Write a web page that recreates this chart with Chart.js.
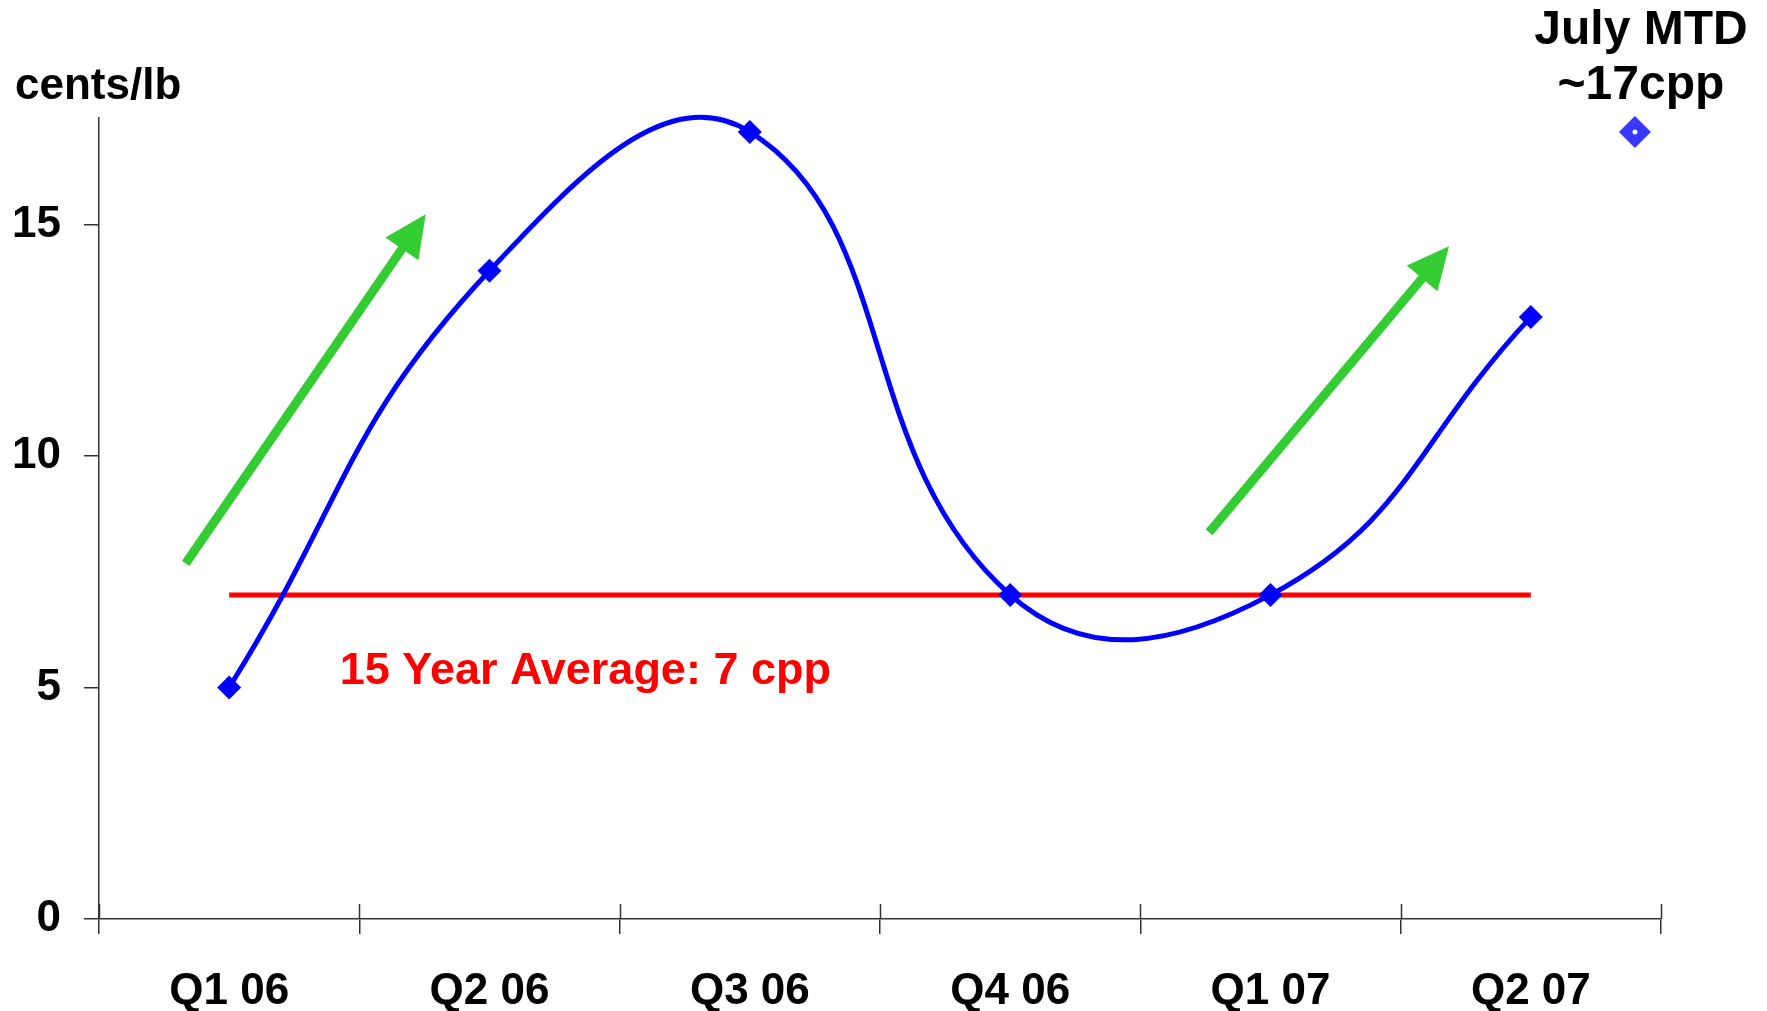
<!DOCTYPE html>
<html>
<head>
<meta charset="utf-8">
<script src="https://cdn.jsdelivr.net/npm/chart.js@4/dist/chart.umd.min.js"></script>
<style>
  html, body { margin: 0; padding: 0; background: #ffffff; }
  canvas { display: block; }
</style>
</head>
<body>
<canvas id="chart" width="1767" height="1011"></canvas>
<script>
// Quarterly price, cents per pound
const quarters = ['Q1 06', 'Q2 06', 'Q3 06', 'Q4 06', 'Q1 07', 'Q2 07'];
const priceCpp = [5, 14, 17, 7, 7, 13];
const fifteenYearAvg = [7, 7, 7, 7, 7, 7];
// July month-to-date reading (x on the quarter-boundary scale: 0 = start of Q1 06)
const julyMtd = [{ x: 5.9, y: 17 }];
const yTickStep = 5;
const yMax = 17.3;

const FONT = '"Liberation Sans", Arial, Helvetica, sans-serif';
const tickFont = { family: FONT, size: 44, weight: 'bold' };

// Trend arrows, given in (quarter-boundary, cents/lb) units
const trendArrows = [
  { from: [0.333, 7.68], to: [1.255, 15.22] },
  { from: [4.264, 8.35], to: [5.186, 14.53] }
];

const decorations = {
  id: 'decorations',
  afterDatasetsDraw(chart) {
    const { ctx, chartArea } = chart;
    const xr = chart.scales.xr;
    const y = chart.scales.y;
    ctx.save();

    // x tick marks also reach up into the plot
    ctx.strokeStyle = '#333333';
    ctx.lineWidth = 1.5;
    for (let i = 0; i <= quarters.length; i++) {
      const px = Math.round(xr.getPixelForValue(i)) + 0.5;
      ctx.beginPath();
      ctx.moveTo(px, chartArea.bottom);
      ctx.lineTo(px, chartArea.bottom - 15);
      ctx.stroke();
    }

    // green trend arrows
    ctx.fillStyle = '#33CC33';
    ctx.strokeStyle = '#33CC33';
    trendArrows.forEach(a => {
      const x0 = xr.getPixelForValue(a.from[0]), y0 = y.getPixelForValue(a.from[1]);
      const x1 = xr.getPixelForValue(a.to[0]), y1 = y.getPixelForValue(a.to[1]);
      const ang = Math.atan2(y1 - y0, x1 - x0);
      const headLen = 42, headHalf = 20;
      const bx = x1 - headLen * Math.cos(ang), by = y1 - headLen * Math.sin(ang);
      ctx.lineWidth = 9;
      ctx.lineCap = 'butt';
      ctx.beginPath();
      ctx.moveTo(x0, y0);
      ctx.lineTo(bx + 2 * Math.cos(ang), by + 2 * Math.sin(ang));
      ctx.stroke();
      ctx.beginPath();
      ctx.moveTo(x1, y1);
      ctx.lineTo(bx - headHalf * Math.sin(ang), by + headHalf * Math.cos(ang));
      ctx.lineTo(bx + headHalf * Math.sin(ang), by - headHalf * Math.cos(ang));
      ctx.closePath();
      ctx.fill();
    });

    // average label
    ctx.fillStyle = '#FF0000';
    ctx.font = 'bold 45px ' + FONT;
    ctx.textAlign = 'left';
    ctx.textBaseline = 'alphabetic';
    ctx.fillText('15 Year Average: 7 cpp', xr.getPixelForValue(0.925), y.getPixelForValue(5.07));

    // July MTD callout
    const jx = xr.getPixelForValue(julyMtd[0].x), jy = y.getPixelForValue(julyMtd[0].y);
    ctx.fillStyle = '#000000';
    ctx.font = 'bold 48px ' + FONT;
    ctx.textAlign = 'center';
    ctx.fillText('July MTD', jx + 6, jy - 88);
    ctx.fillText('~17cpp', jx + 6, jy - 33);

    // unit label
    ctx.font = 'bold 44px ' + FONT;
    ctx.textAlign = 'left';
    ctx.fillText('cents/lb', 15, chartArea.top - 19);

    ctx.restore();
  }
};

new Chart(document.getElementById('chart'), {
  type: 'line',
  data: {
    labels: quarters,
    datasets: [
      {
        label: 'Price',
        data: priceCpp,
        borderColor: '#0000FF',
        borderWidth: 5,
        tension: 0.45,
        pointStyle: 'rectRot',
        pointRadius: 12,
        pointBackgroundColor: '#0000FF',
        pointBorderWidth: 0,
        clip: false
      },
      {
        label: '15 Year Average',
        data: fifteenYearAvg,
        borderColor: '#FF0000',
        borderWidth: 5,
        tension: 0,
        pointRadius: 0
      },
      {
        label: 'July MTD centre',
        data: julyMtd,
        xAxisID: 'xr',
        showLine: false,
        pointStyle: 'circle',
        pointRadius: 2.5,
        pointBackgroundColor: '#FFFFFF',
        pointBorderWidth: 0,
        clip: false
      },
      {
        label: 'July MTD',
        data: julyMtd,
        xAxisID: 'xr',
        showLine: false,
        pointStyle: 'rectRot',
        pointRadius: 16,
        pointBackgroundColor: '#3838FF',
        pointBorderWidth: 0,
        clip: false
      }
    ]
  },
  options: {
    responsive: false,
    animation: false,
    devicePixelRatio: 1,
    layout: { padding: { top: 118, right: 106, left: 0, bottom: 0 } },
    elements: { line: { capBezierPoints: false } },
    plugins: { legend: { display: false }, tooltip: { enabled: false } },
    scales: {
      x: {
        type: 'category',
        offset: true,
        grid: { offset: true, drawOnChartArea: false, tickLength: 15, color: '#333333', lineWidth: 1.5 },
        border: { color: '#333333', width: 1.5 },
        ticks: { font: tickFont, color: '#000000', padding: 31, maxRotation: 0, autoSkip: false },
        afterFit(s) { s.height = 92; }
      },
      xr: { type: 'linear', display: false, min: 0, max: quarters.length },
      y: {
        min: 0,
        max: yMax,
        ticks: { stepSize: yTickStep, includeBounds: false, font: tickFont, color: '#000000', padding: 23 },
        grid: { drawOnChartArea: false, tickLength: 15, color: '#333333', lineWidth: 1.5 },
        border: { color: '#333333', width: 1.5 },
        afterFit(s) { s.width = 99; }
      }
    }
  },
  plugins: [decorations]
});
</script>
</body>
</html>
